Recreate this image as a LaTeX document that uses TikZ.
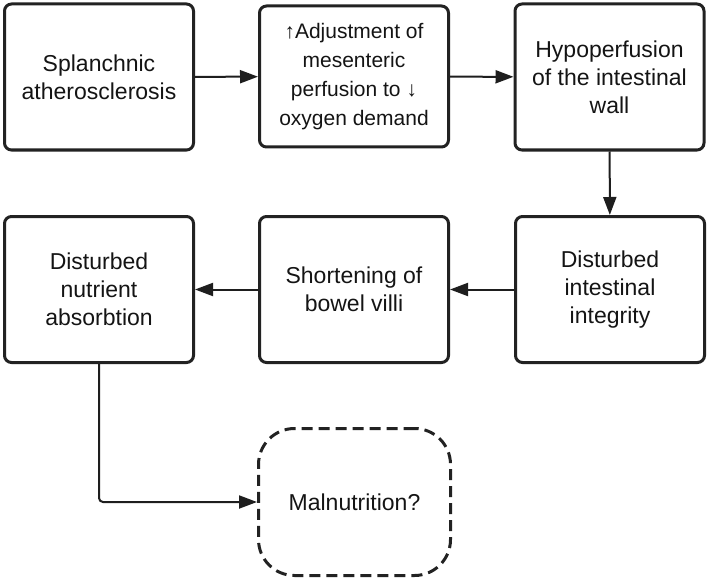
\documentclass[tikz,border=0pt]{standalone}
\usepackage{fontspec}
\setmainfont{Liberation Sans}
\usetikzlibrary{arrows.meta}

\begin{document}
\begin{tikzpicture}[x=1pt,y=1pt,yscale=-1,xscale=1,
    stepbox/.style={draw={rgb,255:red,34;green,34;blue,34}, line width=3pt, rounded corners=7pt,
        minimum width=189pt, minimum height=146pt, inner sep=2pt, align=center,
        text={rgb,255:red,20;green,20;blue,20}, font=\fontsize{23}{28}\selectfont},
    maybebox/.style={stepbox, dash pattern=on 11pt off 6pt, rounded corners=36pt, minimum width=192pt, minimum height=147pt},
    link/.style={draw={rgb,255:red,30;green,30;blue,30}, line width=2pt, -{Triangle[length=18pt,width=13pt]}}]
    \useasboundingbox (0,0) rectangle (708,580);

    % top row
    \node [stepbox] (splanch) at (99,77) {Splanchnic\\atherosclerosis};
    \node [stepbox, minimum height=141pt, font=\fontsize{21}{29}\selectfont] (adjust) at (354,76.5) {↑Adjustment of\\mesenteric\\perfusion to ↓\\oxygen demand};
    \node [stepbox] (hypo) at (609.5,77) {Hypoperfusion\\of the intestinal\\wall};

    % bottom row
    \node [stepbox] (integ) at (610,289.5) {Disturbed\\intestinal\\integrity};
    \node [stepbox] (villi) at (354,289.5) {Shortening of\\bowel villi};
    \node [stepbox] (absorb) at (99,289.5) {Disturbed\\nutrient\\absorbtion};

    % outcome
    \node [maybebox] (malnut) at (354.5,502) {Malnutrition?};

    % Straight Lines
    \draw [link] (splanch) -- (adjust);
    \draw [link] (adjust) -- (hypo);
    \draw [link] (hypo) -- (integ);
    \draw [link] (integ) -- (villi);
    \draw [link] (villi) -- (absorb);
    \draw [link, rounded corners=4pt] (absorb.south) |- (malnut.west);
\end{tikzpicture}
\end{document}
